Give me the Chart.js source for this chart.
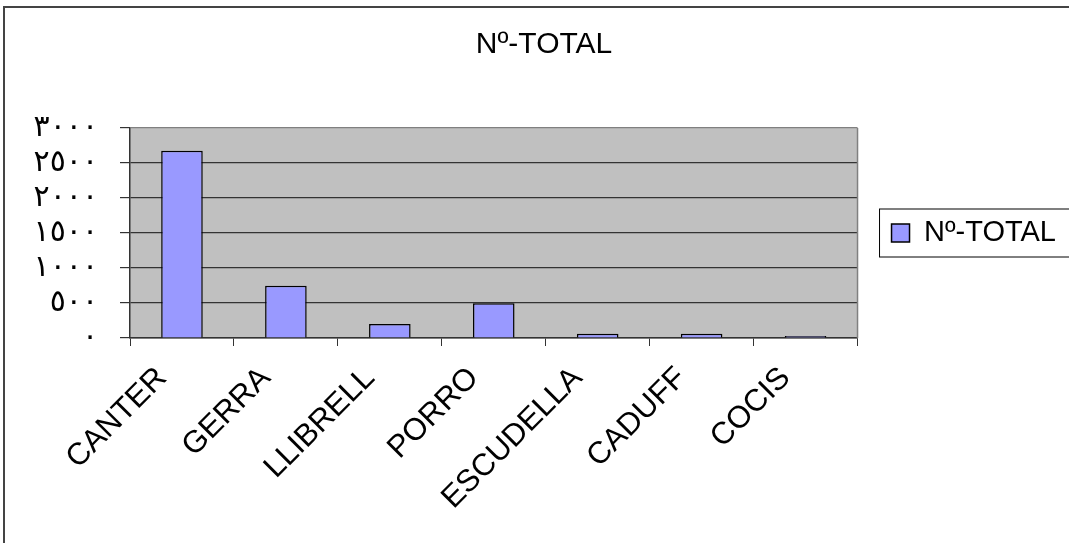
<!DOCTYPE html>
<html lang="es">
<head>
    <meta charset="UTF-8">
    <title>Nº-TOTAL</title>
    <script src="https://cdn.jsdelivr.net/npm/chart.js"></script>
    <style>
        body { margin: 0; background: #fff; }
        #chart-container { width: 1069px; height: 543px; position: relative; }
    </style>
</head>
<body>
    <div id="chart-container">
        <canvas id="totalChart"></canvas>
    </div>
    <script>
        const categories = ["CANTER", "GERRA", "LLIBRELL", "PORRO", "ESCUDELLA", "CADUFF", "COCIS"];
        const totals = [2675, 745, 200, 495, 62, 62, 30];
        const yTickLabels = ["٠", "٥٠٠", "١٠٠٠", "١٥٠٠", "٢٠٠٠", "٢٥٠٠", "٣٠٠٠"];
        const seriesName = "Nº-TOTAL";

        const FONT = "'Liberation Sans', Arial, 'DejaVu Sans', sans-serif";

        // grey plot background, frame and legend box
        const decor = {
            id: "decor",
            beforeDraw(chart) {
                const { ctx, chartArea: a } = chart;
                ctx.save();
                ctx.fillStyle = "#fff";
                ctx.fillRect(0, 0, chart.width, chart.height);
                ctx.fillStyle = "#c0c0c0";
                ctx.fillRect(a.left, a.top, a.right - a.left, a.bottom - a.top);
                ctx.restore();
            },
            afterDraw(chart) {
                const { ctx, chartArea: a } = chart;
                ctx.save();
                // right border of plot area
                ctx.strokeStyle = "#808080";
                ctx.lineWidth = 1.5;
                ctx.beginPath();
                ctx.moveTo(a.right, a.top);
                ctx.lineTo(a.right, a.bottom);
                ctx.stroke();
                // outer frame
                ctx.strokeStyle = "#444";
                ctx.lineWidth = 2;
                ctx.strokeRect(4, 7, chart.width + 10, chart.height + 10);
                // legend border
                const hb = chart.legend.legendHitBoxes[0];
                if (hb) {
                    const cy = hb.top + hb.height / 2;
                    ctx.strokeStyle = "#000";
                    ctx.lineWidth = 1;
                    ctx.strokeRect(hb.left - 12, cy - 24, hb.width + 26, 48);
                }
                ctx.restore();
            }
        };

        new Chart(document.getElementById("totalChart"), {
            type: "bar",
            data: {
                labels: categories,
                datasets: [{
                    label: seriesName,
                    data: totals,
                    backgroundColor: "#9999ff",
                    borderColor: "#000",
                    borderWidth: 1.5,
                    barPercentage: 0.4,
                    categoryPercentage: 1.0
                }]
            },
            options: {
                responsive: true,
                maintainAspectRatio: false,
                animation: false,
                layout: { padding: { left: 22, right: 3, top: 0, bottom: 0 } },
                plugins: {
                    title: {
                        display: true,
                        text: seriesName,
                        color: "#000",
                        font: { family: FONT, size: 30, weight: "normal" },
                        padding: { top: 27, bottom: 65 }
                    },
                    legend: {
                        display: true,
                        position: "right",
                        fullSize: false,
                        labels: {
                            color: "#000",
                            font: { family: FONT, size: 29 },
                            boxWidth: 18,
                            boxHeight: 18,
                            padding: 34
                        }
                    },
                    tooltip: { enabled: false }
                },
                scales: {
                    x: {
                        afterFit(scale) { scale.height = 205; },
                        grid: {
                            offset: true,
                            drawOnChartArea: false,
                            drawTicks: true,
                            tickLength: 8,
                            tickColor: "#333"
                        },
                        border: { display: true, color: "#333", width: 1.5 },
                        ticks: {
                            color: "#000",
                            font: { family: FONT, size: 31 },
                            minRotation: 45,
                            maxRotation: 45,
                            autoSkip: false,
                            padding: 14,
                            labelOffset: -20
                        }
                    },
                    y: {
                        min: 0,
                        max: 3000,
                        afterFit(scale) { scale.width = 108; },
                        grid: {
                            color: ctx => ctx.tick && ctx.tick.value === 3000 ? "#808080" : "#333",
                            lineWidth: 1.2,
                            tickLength: 10,
                            tickColor: "#333"
                        },
                        border: { display: true, color: "#333", width: 1.5 },
                        ticks: {
                            stepSize: 500,
                            count: 7,
                            autoSkip: false,
                            color: "#000",
                            padding: 22,
                            font: { family: FONT, size: 30, lineHeight: 0.8 },
                            callback: (value, index) => yTickLabels[index]
                        }
                    }
                }
            },
            plugins: [decor]
        });
    </script>
</body>
</html>
